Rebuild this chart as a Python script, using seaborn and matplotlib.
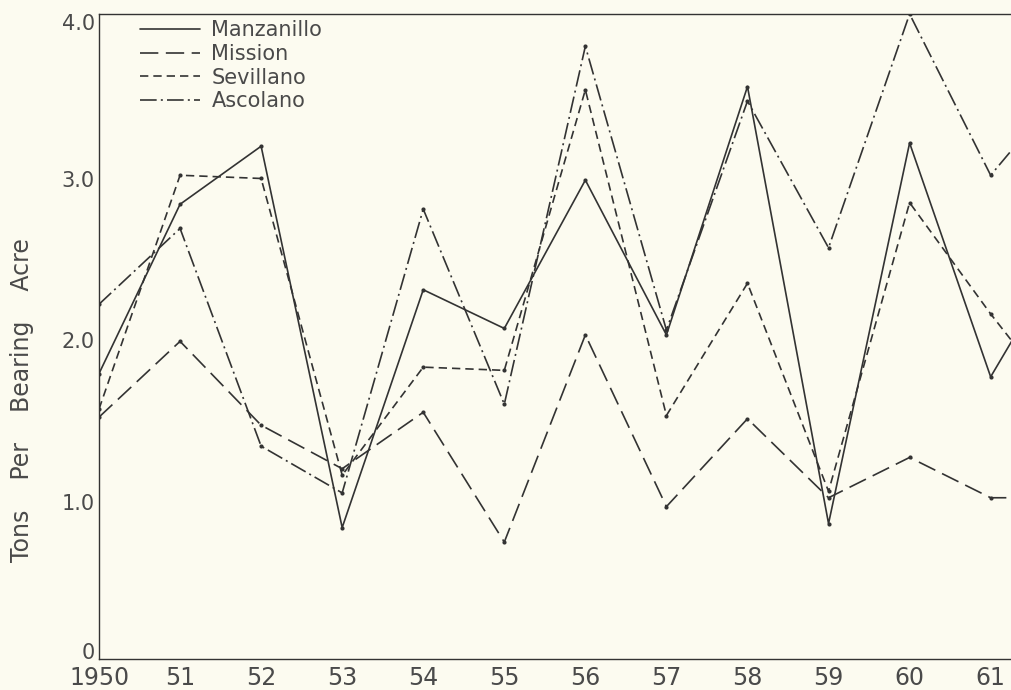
"""
Olive yields per bearing acre, 1950-61 (recreated chart)
"""

import matplotlib
matplotlib.use("Agg")
import matplotlib.pyplot as plt
from matplotlib.lines import Line2D
from matplotlib.transforms import ScaledTranslation
import seaborn as sns
import pandas as pd


# values (the 1962 points only show as the stub past '61)
years = [1950, 1951, 1952, 1953, 1954, 1955, 1956, 1957, 1958, 1959, 1960, 1961, 1962]
manzanillo = [1.77, 2.82, 3.18, 0.815, 2.29, 2.05, 2.97, 2.01, 3.55, 0.84, 3.20, 1.75, 2.6]
mission = [1.50, 1.97, 1.45, 1.18, 1.53, 0.725, 2.01, 0.945, 1.49, 1.00, 1.25, 1.00, 1.0]
sevillano = [1.55, 3.00, 2.98, 1.14, 1.81, 1.79, 3.53, 1.51, 2.33, 1.04, 2.83, 2.14, 1.5]
ascolano = [2.20, 2.67, 1.32, 1.03, 2.79, 1.58, 3.80, 2.04, 3.46, 2.55, 4.00, 3.00, 3.6]

varieties = ["Manzanillo", "Mission", "Sevillano", "Ascolano"]
x_ticks = [1950, 1951, 1952, 1953, 1954, 1955, 1956, 1957, 1958, 1959, 1960, 1961]
x_tick_labels = ["1950", "51", "52", "53", "54", "55", "56", "57", "58", "59", "60", "61"]
y_ticks = [0, 1, 2, 3, 4]
y_tick_labels = ["0", "1.0", "2.0", "3.0", "4.0"]

paper = "#fcfbf0"
ink = "#333333"
text_ink = "#4a4a4a"

df = pd.DataFrame({
    "year": years * 4,
    "tons": manzanillo + mission + sevillano + ascolano,
    "variety": [v for v in varieties for _ in years],
})

dash_styles = {
    "Manzanillo": "",
    "Mission": (11, 4.5),
    "Sevillano": (5, 3),
    "Ascolano": (10, 2.5, 1.2, 2.5),
}

sns.set_theme(style="white")
plt.rcParams["font.family"] = ["DejaVu Sans"]

fig = plt.figure(figsize=(10.11, 6.90), dpi=100, facecolor=paper)
ax = fig.add_axes([99 / 1011, 31 / 690, 912 / 1011, 645 / 690], facecolor=paper)

sns.lineplot(
    data=df, x="year", y="tons", hue="variety", style="variety",
    palette={v: ink for v in varieties}, dashes=dash_styles,
    markers={v: "o" for v in varieties}, markersize=3, markeredgewidth=0,
    linewidth=1.2, legend=False, ax=ax,
)

ax.set_xlim(1950, 1950 + 912 / 81.06)
ax.set_ylim(0, 4.0)
ax.set_xticks(x_ticks)
ax.set_xticklabels(x_tick_labels, fontsize=17, color=text_ink)
ax.set_yticks(y_ticks)
ax.set_yticklabels(y_tick_labels, fontsize=15, color=text_ink)
ax.tick_params(axis="x", direction="in", length=5, width=1, color=ink, pad=5)
ax.tick_params(axis="y", direction="in", length=5, width=1, color=ink, pad=3)

# the lettered labels sit a little below their ticks; the 0 sits on the axis
y_shift_px = [0, -4, -4, -4, -8]
for lab, dy in zip(ax.get_yticklabels(), y_shift_px):
    lab.set_transform(lab.get_transform() + ScaledTranslation(0, dy / 100, fig.dpi_scale_trans))
ax.get_yticklabels()[0].set_verticalalignment("baseline")

ax.set_xlabel("")
ax.set_ylabel("Tons    Per    Bearing    Acre", fontsize=17, color=text_ink)
ax.yaxis.set_label_coords(-0.071, 0.402)

for side in ["left", "bottom", "top"]:
    ax.spines[side].set_color(ink)
    ax.spines[side].set_linewidth(1.0)
ax.spines["right"].set_visible(False)

handles = [Line2D([], [], color=ink, linewidth=1.2, linestyle="-")]
handles += [Line2D([], [], color=ink, linewidth=1.2, dashes=dash_styles[v]) for v in varieties[1:]]
ax.legend(
    handles, varieties, loc="upper left", bbox_to_anchor=(0.045, 0.99),
    frameon=False, fontsize=15, handlelength=2.9, handletextpad=0.53,
    labelspacing=0.17, borderpad=0, borderaxespad=0, labelcolor=text_ink,
)

plt.savefig("out.png", dpi=100, facecolor=paper)
